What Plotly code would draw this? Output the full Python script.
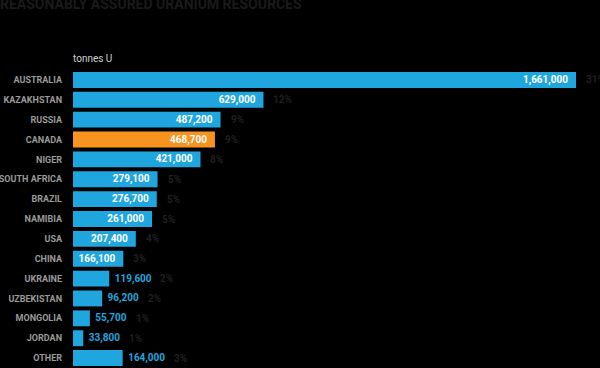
import plotly.graph_objects as go

countries = ["AUSTRALIA", "KAZAKHSTAN", "RUSSIA", "CANADA", "NIGER", "SOUTH AFRICA",
             "BRAZIL", "NAMIBIA", "USA", "CHINA", "UKRAINE", "UZBEKISTAN",
             "MONGOLIA", "JORDAN", "OTHER"]
tonnes = [1661000, 629000, 487200, 468700, 421000, 279100, 276700, 261000,
          207400, 166100, 119600, 96200, 55700, 33800, 164000]
shares = ["31%", "12%", "9%", "9%", "8%", "5%", "5%", "5%", "4%", "3%",
          "2%", "2%", "1%", "1%", "3%"]
inside = [True] * 10 + [False] * 5

BLUE = "#1fa6df"
ORANGE = "#f7931e"
FONT = "Roboto, sans-serif"

colors = [ORANGE if c == "CANADA" else BLUE for c in countries]
texts = [(f"{v:,}\u00a0\u00a0" if ins else f"\u00a0{v:,}") for v, ins in zip(tonnes, inside)]
positions = ["inside" if ins else "outside" for ins in inside]

fig = go.Figure(go.Bar(
    x=tonnes, y=countries, orientation="h",
    marker=dict(color=colors, line=dict(width=0)),
    width=0.8,
    text=texts, textposition=positions,
    insidetextanchor="end",
    insidetextfont=dict(color="white", size=10, family=FONT, weight="bold"),
    outsidetextfont=dict(color=BLUE, size=10, family=FONT, weight="bold"),
    constraintext="none", cliponaxis=False,
    hoverinfo="skip",
))

annotations = []
for c, v, s, ins in zip(countries, tonnes, shares, inside):
    shift = 8 if ins else int(len(f"{v:,}") * 5.1) + 14
    annotations.append(dict(x=v, y=c, xref="x", yref="y", text=s, showarrow=False,
                            xanchor="left", yanchor="middle", xshift=shift,
                            font=dict(color="#1f1f1f", size=10, family=FONT, weight="bold")))
annotations.append(dict(x=0, y=1.04, xref="paper", yref="paper", text="tonnes U",
                        showarrow=False, xanchor="left", yanchor="middle", xshift=-2,
                        font=dict(color="#d0d0d0", size=10, family=FONT)))

fig.update_layout(
    width=600, height=368,
    paper_bgcolor="black", plot_bgcolor="black",
    margin=dict(l=73, r=24, t=70, b=0, autoexpand=False),
    showlegend=False,
    title=dict(text="REASONABLY ASSURED URANIUM RESOURCES", x=0, xref="container",
               xanchor="left", y=1 - 4 / 368, yanchor="middle", pad=dict(l=0, t=0, b=0, r=0),
               font=dict(color="#1a1a1a", size=14, family=FONT, weight="bold")),
    xaxis=dict(range=[0, 1661000], visible=False, showgrid=False, zeroline=False, automargin=False),
    yaxis=dict(autorange="reversed", showgrid=False, zeroline=False, showline=False,
               ticks="", ticklabelstandoff=10, automargin=False,
               tickfont=dict(color="#9a9a9a", size=9, family=FONT, weight="bold")),
    annotations=annotations,
)

fig.write_html("out.html", config={"displayModeBar": False},
               post_script="document.body.style.margin='0';document.body.style.background='black';")
